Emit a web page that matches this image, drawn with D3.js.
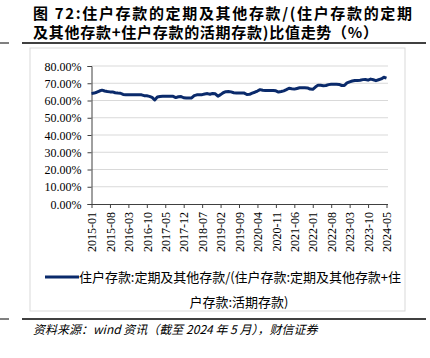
<!DOCTYPE html>
<html>
<head>
<meta charset="utf-8">
<script src="https://cdn.jsdelivr.net/npm/d3@7"></script>
<style>
  body { margin: 0; background: #fff; }
  svg { display: block; }
</style>
</head>
<body>
<div id="chart"></div>
<script>
const width = 430;
const height = 358;

// data
const titleLines = ["图 72:住户存款的定期及其他存款/(住户存款的定期", "及其他存款+住户存款的活期存款)比值走势（%）"];
const seriesName = ["住户存款:定期及其他存款/(住户存款:定期及其他存款+住", "户存款:活期存款)"];
const sourceText = "资料来源：wind 资讯（截至 2024 年 5 月），财信证券";
const yTicks = [0, 10, 20, 30, 40, 50, 60, 70, 80];
const tickLabels = ["2015-01", "2015-08", "2016-03", "2016-10", "2017-05", "2017-12", "2018-07", "2019-02",
  "2019-09", "2020-04", "2020-11", "2021-06", "2022-01", "2022-08", "2023-03", "2023-10", "2024-05"];
const ratio = [
  64.0, 64.3, 64.8, 65.5, 66.0, 65.5, 65.2, 65.0, 65.0, 64.5, 64.3, 64.2,
  63.5, 63.4, 63.4, 63.4, 63.4, 63.4, 63.4, 63.3, 62.8, 62.7, 62.4, 61.8,
  60.3, 62.0, 62.3, 62.4, 62.4, 62.4, 62.4, 62.4, 61.7, 62.2, 62.3, 61.6,
  61.4, 61.4, 61.5, 62.8, 63.3, 63.4, 63.4, 63.8, 64.0, 63.6, 64.1, 63.9,
  62.5, 63.4, 64.5, 65.1, 65.2, 65.0, 64.5, 64.4, 64.4, 64.4, 64.3, 63.5,
  63.6, 64.3, 64.8, 65.5, 66.3, 65.9, 65.8, 65.8, 65.8, 65.8, 65.6, 64.9,
  65.2, 65.6, 66.3, 67.1, 66.8, 66.6, 67.0, 67.4, 67.4, 67.4, 67.3, 66.6,
  66.5, 67.8, 68.9, 68.8, 68.6, 68.7, 69.2, 69.4, 69.4, 69.4, 69.3, 68.7,
  68.7, 70.2, 70.8, 71.3, 71.6, 71.6, 71.7, 72.1, 72.2, 71.8, 72.4, 72.0,
  71.5, 72.0, 72.5, 73.5, 73.0
];
const months = ratio.map((d, i) => {
  const y = 2015 + Math.floor(i / 12), m = i % 12 + 1;
  return y + "-" + (m < 10 ? "0" + m : m);
});

const lineColor = "#0a2a6b";
const cjk = "'Noto Sans CJK SC', sans-serif";
const serif = "'Liberation Serif', 'Times New Roman', serif";

let svg = d3.select("#chart").append("svg").attr("width", width).attr("height", height);

// title
svg.selectAll(".title").data(titleLines).enter().append("text")
  .attr("x", 33).attr("y", (d, i) => 19 + i * 19)
  .attr("textLength", (d, i) => i === 0 ? 379 : 345).attr("lengthAdjust", "spacing")
  .style("font-family", cjk).style("font-size", "15px").style("font-weight", "bold").style("fill", "#000")
  .text(d => d);

// rules
[43, 319].forEach(y => {
  svg.append("line").attr("x1", 22).attr("x2", 426).attr("y1", y).attr("y2", y).attr("stroke", "#000").attr("stroke-width", 1.5);
  svg.append("line").attr("x1", 0).attr("x2", 9).attr("y1", y).attr("y2", y).attr("stroke", "#000").attr("stroke-width", 1);
});

// chart frame
svg.append("rect").attr("x", 30).attr("y", 48).attr("width", 375).attr("height", 263)
  .attr("fill", "none").attr("stroke", "#d9d9d9").attr("stroke-width", 1);

const x = d3.scalePoint().domain(months).range([91.5, 386.5]);
const y = d3.scaleLinear().domain([0, 80]).range([204, 66]);

// gridlines
svg.selectAll(".grid").data(yTicks.slice(1)).enter().append("line")
  .attr("x1", 91.5).attr("x2", 388).attr("y1", d => y(d)).attr("y2", d => y(d))
  .attr("stroke", "#d9d9d9").attr("stroke-width", 1);

// y axis
let yAxis = svg.append("g").attr("transform", "translate(91.5,0)")
  .call(d3.axisLeft(y).tickValues(yTicks).tickSize(4).tickFormat(d => d.toFixed(2) + "%"))
  .attr("font-family", serif).attr("font-size", 12);
yAxis.select(".domain").attr("stroke", "#404040");
yAxis.selectAll(".tick line").attr("stroke", "#404040");
yAxis.selectAll("text").style("font-family", serif).style("font-size", "12px").style("fill", "#000")
  .attr("x", -10).attr("dy", "0.34em");

// x axis
let xAxis = svg.append("g").attr("transform", "translate(0,204)")
  .call(d3.axisBottom(x).tickValues(tickLabels).tickSize(4).tickSizeOuter(0))
  .attr("font-family", serif).attr("font-size", 12);
xAxis.select(".domain").attr("stroke", "#404040").attr("d", "M91.5,0.5H388");
xAxis.selectAll(".tick line").attr("stroke", "#404040");
xAxis.selectAll("text").style("font-family", serif).style("font-size", "12px").style("fill", "#000")
  .attr("transform", "rotate(-90)").attr("text-anchor", "end").attr("x", -8).attr("y", 0).attr("dy", "0.35em");

// line
svg.append("path").datum(ratio)
  .attr("fill", "none").attr("stroke", lineColor).attr("stroke-width", 3).attr("stroke-linejoin", "round")
  .attr("d", d3.line().x((d, i) => x(months[i])).y(d => y(d)));

// legend
svg.append("line").attr("x1", 45).attr("x2", 79).attr("y1", 277).attr("y2", 277)
  .attr("stroke", lineColor).attr("stroke-width", 3);
svg.append("text").attr("x", 79).attr("y", 281.5).attr("textLength", 322).attr("lengthAdjust", "spacing")
  .style("font-family", cjk).style("font-size", "13px").style("fill", "#000").text(seriesName[0]);
svg.append("text").attr("x", 239).attr("y", 306.5).attr("text-anchor", "middle")
  .style("font-family", cjk).style("font-size", "13px").style("fill", "#000").text(seriesName[1]);

// source
svg.append("text").attr("x", 33).attr("y", 334)
  .style("font-family", cjk).style("font-size", "12px").style("font-style", "italic").style("fill", "#000")
  .text(sourceText);
</script>
</body>
</html>
